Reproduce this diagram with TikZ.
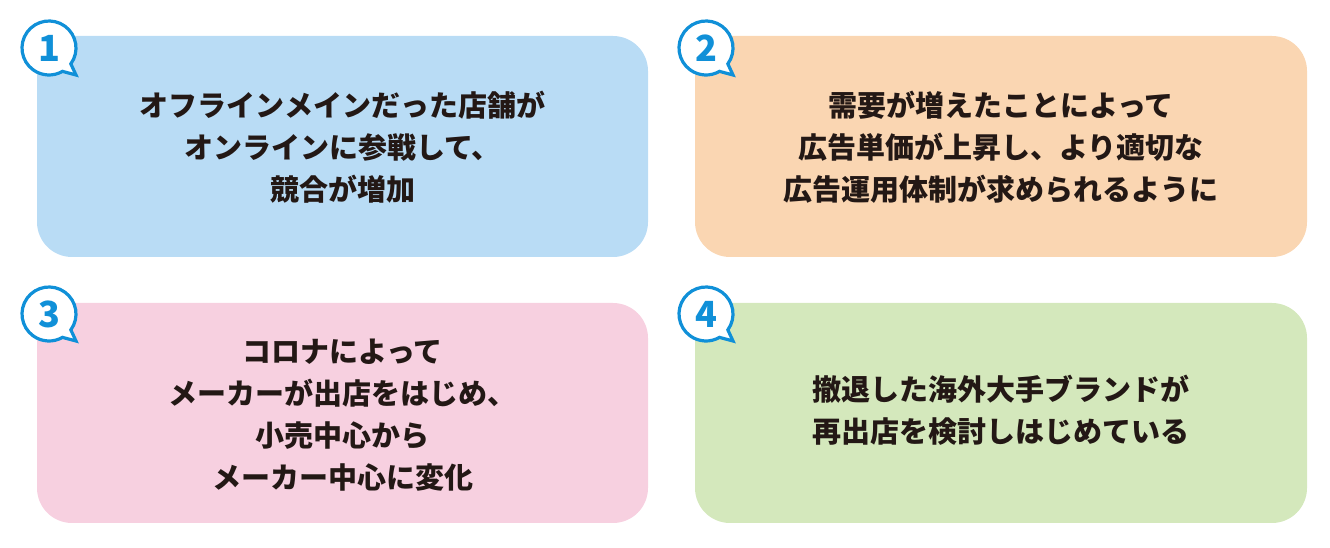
\documentclass[tikz,border=0pt]{standalone}
\usepackage{fontspec}
\setmainfont{Noto Sans CJK JP}
\usepackage{tikz}
\definecolor{boxblue}{HTML}{B9DCF5}
\definecolor{boxpeach}{HTML}{FAD6B2}
\definecolor{boxpink}{HTML}{F7D0E0}
\definecolor{boxgreen}{HTML}{D4E8BC}
\definecolor{badgeblue}{HTML}{1090D8}
\definecolor{inkdark}{HTML}{231815}

\begin{document}
\begin{tikzpicture}[x=1pt, y=1pt,
    card/.style={rounded corners=35pt, draw=none},
    badge/.style={draw=badgeblue, fill=white, line width=3.2pt, line join=miter},
    num/.style={inner sep=0pt, text=badgeblue, font=\fontsize{36}{36}\selectfont\bfseries},
    txt/.style={align=center, inner sep=0pt, text=inkdark, font=\fontsize{29}{42}\selectfont\bfseries}]
    \useasboundingbox (0,0) rectangle (1330,548);
    \fill[card, boxblue] (37,291) rectangle (648,512);
    \fill[card, boxpeach] (695,291) rectangle (1307,512);
    \fill[card, boxpink] (37,25) rectangle (648,245);
    \fill[card, boxgreen] (695,25) rectangle (1307,245);
    \node[txt] (t1) at (342.5,401) {オフラインメインだった店舗が\\オンラインに参戦して、\\競合が増加};
    \node[txt] (t2) at (1001,401) {需要が増えたことによって\\広告単価が上昇し、より適切な\\広告運用体制が求められるように};
    \node[txt] (t3) at (342.5,133) {コロナによって\\メーカーが出店をはじめ、\\小売中心から\\メーカー中心に変化};
    \node[txt] (t4) at (1001,138) {撤退した海外大手ブランドが\\再出店を検討しはじめている};
    \draw[badge] (49,500) ++(-36:27) arc[start angle=-36, end angle=300, radius=27] -- (76,473) -- cycle;
    \draw[badge] (706,500) ++(-36:27) arc[start angle=-36, end angle=300, radius=27] -- (733,473) -- cycle;
    \draw[badge] (49,234) ++(-36:27) arc[start angle=-36, end angle=300, radius=27] -- (76,207) -- cycle;
    \draw[badge] (706,234) ++(-36:27) arc[start angle=-36, end angle=300, radius=27] -- (733,207) -- cycle;
    \node[num] (n1) at (49,500) {1};
    \node[num] (n2) at (706,500) {2};
    \node[num] (n3) at (49,234) {3};
    \node[num] (n4) at (706,234) {4};
\end{tikzpicture}
\end{document}
